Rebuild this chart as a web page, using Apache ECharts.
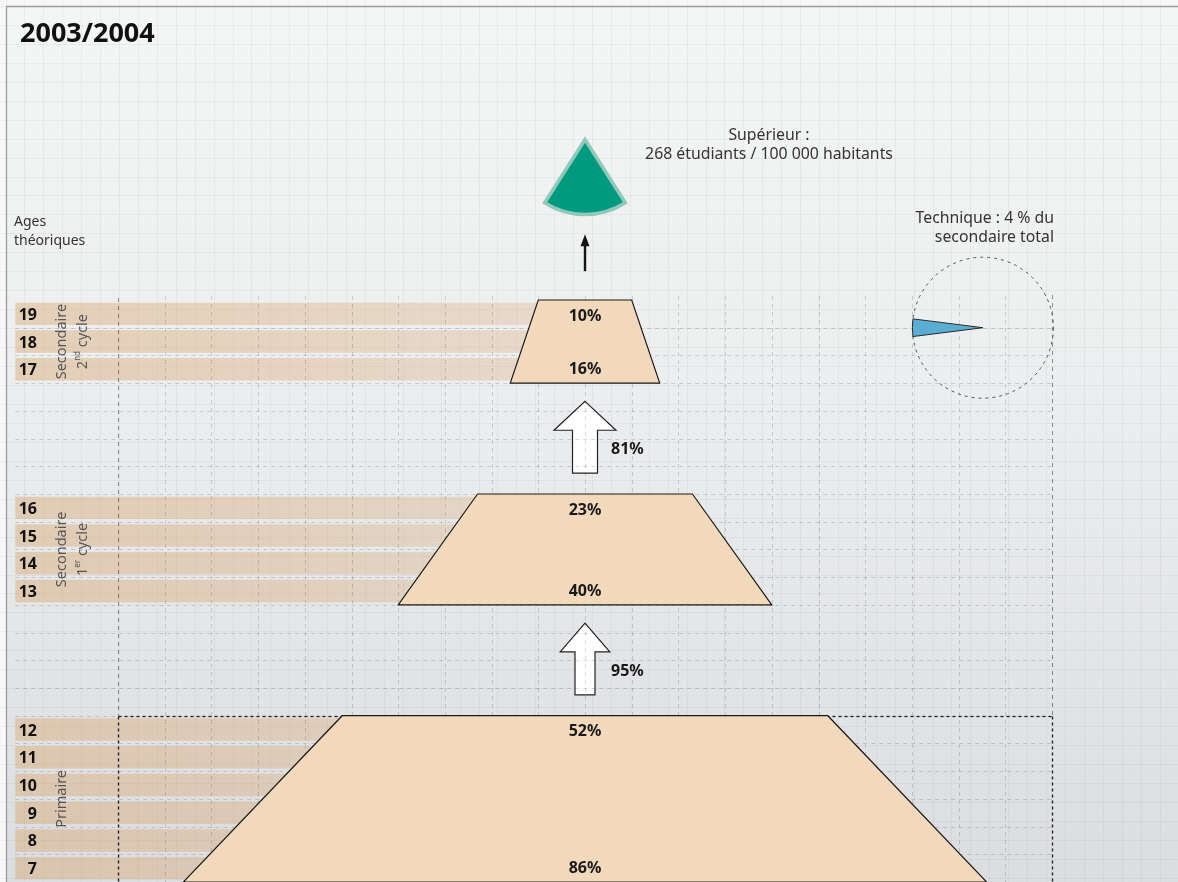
<!DOCTYPE html>
<html>
<head>
<meta charset="utf-8">
<script src="https://cdn.jsdelivr.net/npm/echarts@6/dist/echarts.min.js"></script>
<style>
html,body{margin:0;padding:0;background:#f7f7f7;}
#c{width:1178px;height:882px;}
</style>
</head>
<body>
<div id="c"></div>
<script>
// ---------------- DATA ----------------
const chartTitle = '2003/2004';
const levelNames = ['Secondaire 2nd cycle', 'Secondaire 1er cycle', 'Primaire'];
const levelAges = [[19, 18, 17], [16, 15, 14, 13], [12, 11, 10, 9, 8, 7]];
const levelTopPct = [10, 23, 52];      // rate at the oldest age of the level
const levelBottomPct = [16, 40, 86];   // rate at the youngest age of the level
const transitionPct = [81, 95];        // transition rates between levels (upwards)
const techniquePct = 4;                // technique share of total secondary (%)
const superieurLines = ['Supérieur :', '268 étudiants / 100 000 habitants'];
const techniqueLines = ['Technique : 4 % du', 'secondaire total'];
const agesTitleLines = ['Ages', 'théoriques'];

// rich-text versions of the level names (superscripts)
const levelRich = [
  '{a|Secondaire}\n{a|2}{s|nd}{a| cycle}',
  '{a|Secondaire}\n{a|1}{s|er}{a| cycle}',
  '{a|Primaire}'
];

// ---------------- LAYOUT (styles / positions) ----------------
const GAP_ROWS = 4;
const FONT = '"Noto Sans", "Open Sans", sans-serif';
const L = {
  barLeft: -61, ageRight: -58.67, levelLabelX: -57.1,
  techCenter: [42.6, 1.0], techR: 70.5,
  supCenter: [0, -5.79], supR: 75, supHalfDeg: 32.5,
  arrowScale: [1, 0.8]
};

// derive row indices
const levelStart = [];
let cursor = 0;
levelAges.forEach(a => { levelStart.push(cursor); cursor += a.length + GAP_ROWS; });
const totalRows = cursor - GAP_ROWS;
const rowData = [];
levelAges.forEach((ages, i) => ages.forEach((age, j) => rowData.push([age, levelStart[i] + j, i])));

const levelData = levelAges.map((a, i) => [i, levelTopPct[i], levelBottomPct[i]]);
const transData = transitionPct.map((p, i) => [i, p]);

// ---------------- BACKGROUND GRAPHICS ----------------
const W = 1178, H = 882;
const graphics = [];
graphics.push({type: 'rect', z: 0, silent: true, shape: {x: 0, y: 0, width: W, height: H}, style: {fill: '#f7f7f7'}});
graphics.push({type: 'rect', z: 0, silent: true, shape: {x: 6, y: 6, width: W - 6, height: H - 6},
  style: {fill: {type: 'linear', x: 0, y: 0, x2: 0, y2: 1, colorStops: [
    {offset: 0, color: '#f4f5f5'}, {offset: 0.45, color: '#ecedee'}, {offset: 1, color: '#dcdde0'}]}}});
for (let x = 5.5; x < W; x += 18.92) {
  graphics.push({type: 'line', z: 1, silent: true, shape: {x1: Math.round(x) + 0.5, y1: 0, x2: Math.round(x) + 0.5, y2: H}, style: {stroke: 'rgba(0,0,0,0.04)', lineWidth: 1}});
}
for (let y = 6; y < H; y += 18.95) {
  graphics.push({type: 'line', z: 1, silent: true, shape: {x1: 0, y1: Math.round(y) + 0.5, x2: W, y2: Math.round(y) + 0.5}, style: {stroke: 'rgba(0,0,0,0.04)', lineWidth: 1}});
}
graphics.push({type: 'line', z: 2, silent: true, shape: {x1: 6, y1: 6.5, x2: W, y2: 6.5}, style: {stroke: '#9a9a9a', lineWidth: 1.3}});
graphics.push({type: 'line', z: 2, silent: true, shape: {x1: 6.5, y1: 6, x2: 6.5, y2: H}, style: {stroke: '#9a9a9a', lineWidth: 1.3}});
// texts
graphics.push({type: 'text', z: 3, x: 20, y: 34, style: {text: chartTitle, font: 'bold 27px ' + FONT, fill: '#111', verticalAlign: 'middle'}});
agesTitleLines.forEach((t, i) => graphics.push({type: 'text', z: 3, x: 14, y: 222 + i * 19, style: {text: t, font: '14px ' + FONT, fill: '#333', verticalAlign: 'middle'}}));
superieurLines.forEach((t, i) => graphics.push({type: 'text', z: 3, x: 769, y: 135.5 + i * 19, style: {text: t, font: '15.8px ' + FONT, fill: '#333', align: 'center', verticalAlign: 'middle'}}));
techniqueLines.forEach((t, i) => graphics.push({type: 'text', z: 3, x: 1054, y: 218.5 + i * 19, style: {text: t, font: '15.8px ' + FONT, fill: '#333', align: 'right', verticalAlign: 'middle'}}));

// ---------------- SERIES ----------------
const lightDash = {stroke: 'rgba(0,0,0,0.15)', lineWidth: 1, lineDash: [4, 4]};
const midDash = {stroke: 'rgba(0,0,0,0.42)', lineWidth: 1, lineDash: [4, 4]};
const darkDash = {stroke: '#1a1a1a', lineWidth: 1.3, lineDash: [3, 3]};

const gridLineData = [];
for (let v = -45; v <= 45; v += 5) gridLineData.push([0, v]);
for (let r = 1; r < totalRows; r++) gridLineData.push([1, r]);
gridLineData.push([2, 0]); // frame lines

const option = {
  animation: false,
  backgroundColor: 'transparent',
  graphic: {elements: graphics},
  grid: {left: 118, width: 934, top: 300, height: 27.8 * totalRows},
  xAxis: {type: 'value', min: -50, max: 50, interval: 5, show: false},
  yAxis: {type: 'value', min: 0, max: totalRows, interval: 1, inverse: true, show: false},
  series: [
    // age bars
    {
      type: 'custom', z: 10, silent: true, data: rowData, encode: {x: -1, y: -1},
      renderItem: (params, api) => {
        const idx = api.value(1);
        const p0 = api.coord([L.barLeft, idx + 0.095]);
        const p1 = api.coord([0, idx + 0.905]);
        return {type: 'rect', shape: {x: p0[0], y: p0[1], width: p1[0] - p0[0], height: p1[1] - p0[1]},
          style: {fill: new echarts.graphic.LinearGradient(0, 0, 1, 0, [
            {offset: 0, color: 'rgba(215,165,110,0.44)'}, {offset: 1, color: 'rgba(215,165,110,0.27)'}])}};
      }
    },
    // transition arrows
    {
      type: 'custom', z: 11, silent: true, data: transData, encode: {x: -1, y: -1},
      renderItem: (params, api) => {
        const i = api.value(0);
        const gs = levelStart[i] + levelAges[i].length;
        const s = L.arrowScale[i];
        const cx = api.coord([0, 0])[0];
        const tip = api.coord([0, gs + 0.66])[1];
        const base = api.coord([0, gs + 1.7])[1];
        const bot = api.coord([0, gs + 3.25])[1];
        const hh = 31 * s, sh = 12.5 * s;
        return {type: 'polygon', shape: {points: [[cx, tip], [cx + hh, base], [cx + sh, base], [cx + sh, bot], [cx - sh, bot], [cx - sh, base], [cx - hh, base]]},
          style: {fill: '#ffffff', stroke: '#222', lineWidth: 1.2, lineJoin: 'miter'}};
      }
    },
    // dashed grid lines
    {
      type: 'custom', z: 12, silent: true, data: gridLineData, encode: {x: -1, y: -1},
      renderItem: (params, api) => {
        const kind = api.value(0), v = api.value(1);
        if (kind === 0) {
          const a = api.coord([v, 0]), b = api.coord([v, totalRows]);
          return {type: 'line', shape: {x1: Math.round(a[0]) + 0.5, y1: a[1] - 4, x2: Math.round(a[0]) + 0.5, y2: b[1]}, style: lightDash};
        }
        if (kind === 1) {
          const a = api.coord([L.barLeft, v]), b = api.coord([50, v]);
          return {type: 'line', shape: {x1: a[0], y1: Math.round(a[1]) + 0.5, x2: b[0], y2: Math.round(b[1]) + 0.5}, style: lightDash};
        }
        const pStart = levelStart[levelStart.length - 1];
        const lt = api.coord([-50, 0]), rt = api.coord([50, 0]);
        const lp = api.coord([-50, pStart]), rp = api.coord([50, pStart]);
        const lb = api.coord([-50, totalRows]), rb = api.coord([50, totalRows]);
        const xl = Math.round(lt[0]) + 0.5, xr = Math.round(rt[0]) + 0.5, yp = Math.round(lp[1]) + 0.5;
        return {type: 'group', children: [
          {type: 'line', shape: {x1: xl, y1: lt[1] - 2, x2: xl, y2: yp}, style: midDash},
          {type: 'line', shape: {x1: xr, y1: rt[1] - 5, x2: xr, y2: yp}, style: midDash},
          {type: 'line', shape: {x1: xl, y1: yp, x2: xr, y2: yp}, style: darkDash},
          {type: 'line', shape: {x1: xl, y1: yp, x2: xl, y2: lb[1]}, style: darkDash},
          {type: 'line', shape: {x1: xr, y1: yp, x2: xr, y2: rb[1]}, style: darkDash}
        ]};
      }
    },
    // level trapezoids
    {
      type: 'custom', z: 13, silent: true, data: levelData, encode: {x: -1, y: -1},
      renderItem: (params, api) => {
        const i = api.value(0), top = api.value(1), bot = api.value(2);
        const y0 = levelStart[i], y1 = levelStart[i] + levelAges[i].length;
        const pts = [[-top / 2, y0], [top / 2, y0], [bot / 2, y1], [-bot / 2, y1]].map(p => api.coord(p));
        return {type: 'polygon', shape: {points: pts}, style: {fill: '#f3d9bb', stroke: '#1a1a1a', lineWidth: 1.2}};
      }
    },
    // percentage labels inside trapezoids
    {
      type: 'custom', z: 14, silent: true, data: levelData, encode: {x: -1, y: -1},
      renderItem: (params, api) => {
        const i = api.value(0), top = api.value(1), bot = api.value(2);
        const y0 = levelStart[i] + 0.58, y1 = levelStart[i] + levelAges[i].length - 0.5;
        const a = api.coord([0, y0]), b = api.coord([0, y1]);
        const st = {font: 'bold 16px ' + FONT, fill: '#1a1a1a', align: 'center', verticalAlign: 'middle'};
        return {type: 'group', children: [
          {type: 'text', x: a[0], y: a[1], style: Object.assign({text: top + '%'}, st)},
          {type: 'text', x: b[0], y: b[1], style: Object.assign({text: bot + '%'}, st)}
        ]};
      }
    },
    // age numbers
    {
      type: 'custom', z: 14, silent: true, data: rowData, encode: {x: -1, y: -1},
      renderItem: (params, api) => {
        const p = api.coord([L.ageRight, api.value(1) + 0.55]);
        return {type: 'text', x: p[0], y: p[1], style: {text: String(api.value(0)), font: 'bold 16px ' + FONT, fill: '#111', align: 'right', verticalAlign: 'middle'}};
      }
    },
    // rotated level names
    {
      type: 'custom', z: 14, silent: true, data: levelData, encode: {x: -1, y: -1},
      renderItem: (params, api) => {
        const i = api.value(0);
        const mid = levelStart[i] + levelAges[i].length / 2;
        const p = api.coord([L.levelLabelX, mid]);
        return {type: 'text', x: p[0], y: p[1], rotation: Math.PI / 2,
          style: {text: levelRich[i], align: 'center', verticalAlign: 'top', fill: '#555',
            rich: {a: {font: '14.5px ' + FONT, fill: '#555', lineHeight: 20.5},
                   s: {font: '8px ' + FONT, fill: '#555', lineHeight: 20.5, verticalAlign: 'top', padding: [2, 0, 0, 0]}}}};
      }
    },
    // transition labels
    {
      type: 'custom', z: 14, silent: true, data: transData, encode: {x: -1, y: -1},
      renderItem: (params, api) => {
        const i = api.value(0);
        const gs = levelStart[i] + levelAges[i].length;
        const p = api.coord([0, gs + 2.4]);
        return {type: 'text', x: p[0] + 26, y: p[1], style: {text: api.value(1) + '%', font: 'bold 16px ' + FONT, fill: '#1a1a1a', align: 'left', verticalAlign: 'middle'}};
      }
    },
    // technique pie (share of total secondary)
    {
      type: 'custom', z: 14, silent: true, data: [[techniquePct]], encode: {x: -1, y: -1},
      renderItem: (params, api) => {
        const pct = api.value(0);
        const c = api.coord(L.techCenter);
        const half = Math.PI * pct / 100;
        return {type: 'group', children: [
          {type: 'circle', shape: {cx: c[0], cy: c[1], r: L.techR}, style: {fill: 'none', stroke: '#555', lineWidth: 1, lineDash: [3, 4]}},
          {type: 'sector', shape: {cx: c[0], cy: c[1], r: L.techR, r0: 0, startAngle: Math.PI - half, endAngle: Math.PI + half, clockwise: true},
            style: {fill: '#5aaed3', stroke: '#2a2a2a', lineWidth: 1}}
        ]};
      }
    },
    // supérieur sector and arrow
    {
      type: 'custom', z: 14, silent: true, data: [[1]], encode: {x: -1, y: -1},
      renderItem: (params, api) => {
        const c = api.coord(L.supCenter);
        const h = L.supHalfDeg * Math.PI / 180;
        const ax = api.coord([0, 0])[0];
        const yb = api.coord([0, -1.04])[1];
        const yt = api.coord([0, -2.37])[1];
        return {type: 'group', children: [
          {type: 'sector', shape: {cx: c[0], cy: c[1], r: L.supR, r0: 0, startAngle: Math.PI / 2 - h, endAngle: Math.PI / 2 + h, clockwise: true},
            style: {fill: '#009a80', stroke: '#8fc9b9', lineWidth: 3.5, lineJoin: 'miter'}},
          {type: 'line', shape: {x1: ax, y1: yb, x2: ax, y2: yt + 10}, style: {stroke: '#151515', lineWidth: 2.4}},
          {type: 'polygon', shape: {points: [[ax, yt], [ax + 4.5, yt + 12], [ax - 4.5, yt + 12]]}, style: {fill: '#151515'}}
        ]};
      }
    }
  ]
};

const chart = echarts.init(document.getElementById('c'));
chart.setOption(option);
</script>
</body>
</html>
